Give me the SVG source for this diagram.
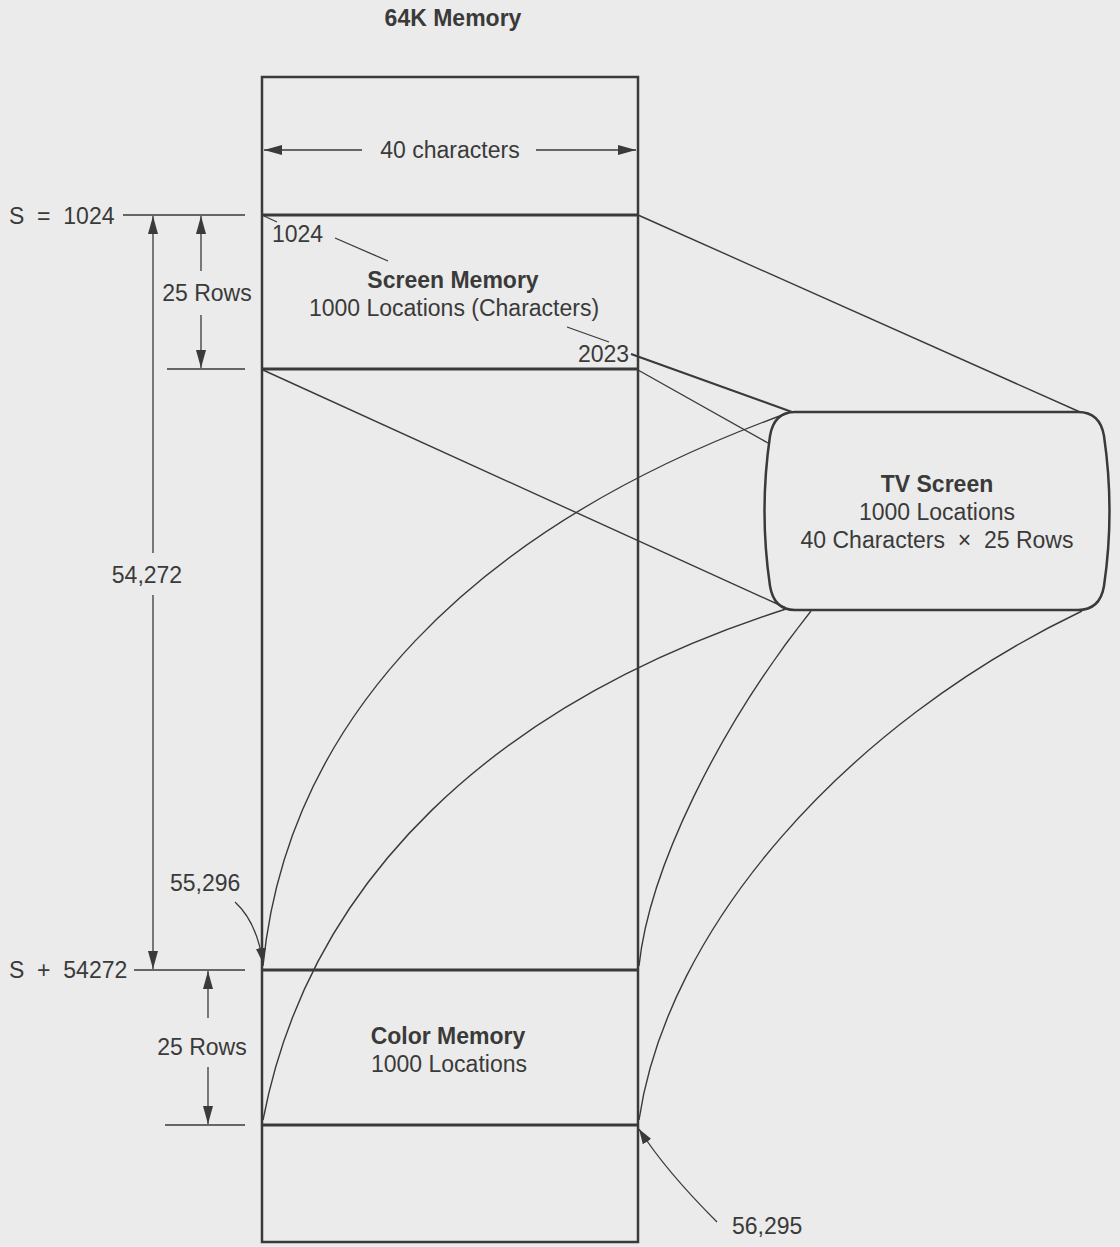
<svg xmlns="http://www.w3.org/2000/svg" width="1120" height="1247" viewBox="0 0 1120 1247">
  <defs>
    <marker id="ah" viewBox="0 0 18 10" refX="18" refY="5" markerWidth="18" markerHeight="10" orient="auto" markerUnits="userSpaceOnUse">
      <path d="M0,0 L18,5 L0,10 z" fill="#3a3a3a"/>
    </marker>
    <marker id="ahs" viewBox="0 0 15 10" refX="15" refY="5" markerWidth="15" markerHeight="10" orient="auto" markerUnits="userSpaceOnUse">
      <path d="M0,0 L15,5 L0,10 z" fill="#3a3a3a"/>
    </marker>
  </defs>
  <style>
    text { font-family: "Liberation Sans", Arial, Helvetica, sans-serif; fill: #3a3a3a; font-size: 23px; }
    .b { font-weight: bold; }
    .c { text-anchor: middle; }
    .box { fill: none; stroke: #3a3a3a; stroke-width: 2.5; }
    .div { stroke: #3a3a3a; stroke-width: 3; }
    .dim { stroke: #3a3a3a; stroke-width: 1.3; fill: none; }
    .con { stroke: #3a3a3a; stroke-width: 1.4; fill: none; }
    .conb { stroke: #3a3a3a; stroke-width: 2.2; fill: none; }
  </style>
  <rect x="0" y="0" width="1120" height="1247" fill="#ebebeb"/>

  <g id="memory">
    <text class="b c" x="453" y="26">64K Memory</text>
    <rect class="box" x="262" y="77" width="376" height="1165"/>
    <line class="div" x1="262" y1="215" x2="638" y2="215"/>
    <line class="div" x1="262" y1="369" x2="638" y2="369"/>
    <line class="div" x1="262" y1="970" x2="638" y2="970"/>
    <line class="div" x1="262" y1="1125" x2="638" y2="1125"/>
  </g>

  <g id="width-dimension">
    <line class="dim" x1="362" y1="150" x2="264" y2="150" marker-end="url(#ah)"/>
    <line class="dim" x1="536" y1="150" x2="636" y2="150" marker-end="url(#ah)"/>
    <text class="c" x="450" y="158">40 characters</text>
  </g>

  <g id="screen-memory">
    <text class="b c" x="453" y="288">Screen Memory</text>
    <text class="c" x="454" y="316">1000 Locations (Characters)</text>
    <text x="272" y="242">1024</text>
    <line class="dim" x1="264" y1="216" x2="277" y2="222"/>
    <line class="dim" x1="335" y1="238" x2="388" y2="261"/>
    <line class="dim" x1="567" y1="327" x2="609" y2="342"/>
    <text x="578" y="362">2023</text>
  </g>

  <g id="color-memory">
    <text class="b c" x="448" y="1044">Color Memory</text>
    <text class="c" x="449" y="1072">1000 Locations</text>
  </g>

  <g id="tv-screen">
    <path class="box" stroke-width="3" d="M795,412 L1078,412 Q1100,412 1104,436 Q1115,511 1104,586 Q1100,610 1078,610 L795,610 Q774,610 770,586 Q759,511 770,436 Q774,412 795,412 Z"/>
    <text class="b c" x="937" y="492">TV Screen</text>
    <text class="c" x="937" y="520" font-size="24">1000 Locations</text>
    <text class="c" x="937" y="548" font-size="24" xml:space="preserve">40 Characters  ×  25 Rows</text>
  </g>

  <g id="address-labels">
    <text x="9" y="224" xml:space="preserve">S  =  1024</text>
    <line class="dim" x1="123" y1="215" x2="245" y2="215"/>
    <line class="dim" x1="167" y1="369" x2="245" y2="369"/>
    <line class="dim" x1="201" y1="271" x2="201" y2="216" marker-end="url(#ah)"/>
    <line class="dim" x1="201" y1="315" x2="201" y2="368" marker-end="url(#ah)"/>
    <text class="c" x="207" y="301">25 Rows</text>

    <line class="dim" x1="153" y1="553" x2="153" y2="216" marker-end="url(#ah)"/>
    <line class="dim" x1="153" y1="595" x2="153" y2="969" marker-end="url(#ah)"/>
    <text class="c" x="147" y="583">54,272</text>

    <text x="170" y="891">55,296</text>
    <path class="dim" d="M235,902 Q257,922 263,963" marker-end="url(#ahs)"/>

    <text x="9" y="978" xml:space="preserve">S  +  54272</text>
    <line class="dim" x1="134" y1="970" x2="245" y2="970"/>
    <line class="dim" x1="165" y1="1125" x2="245" y2="1125"/>
    <line class="dim" x1="208" y1="1018" x2="208" y2="971" marker-end="url(#ah)"/>
    <line class="dim" x1="208" y1="1067" x2="208" y2="1124" marker-end="url(#ah)"/>
    <text class="c" x="202" y="1055">25 Rows</text>

    <text x="732" y="1234">56,295</text>
    <path class="dim" d="M717,1222 Q665,1170 639,1129" marker-end="url(#ahs)"/>
  </g>

  <g id="connectors">
    <line class="con" stroke-width="1.8" x1="638" y1="215" x2="1080" y2="412"/>
    <line class="conb" x1="631" y1="354" x2="792" y2="412"/>
    <line class="con" x1="638" y1="370" x2="768" y2="443"/>
    <line class="con" x1="263" y1="370" x2="786" y2="608"/>
    <path class="con" d="M788,413 C471,527 287,721 263,966"/>
    <path class="con" d="M786,609 C493,703 309,881 263,1120"/>
    <path class="con" d="M811,611 C718,728 649,870 639,966"/>
    <path class="con" d="M1082,611 C844,725 667,929 639,1120"/>
  </g>
</svg>
